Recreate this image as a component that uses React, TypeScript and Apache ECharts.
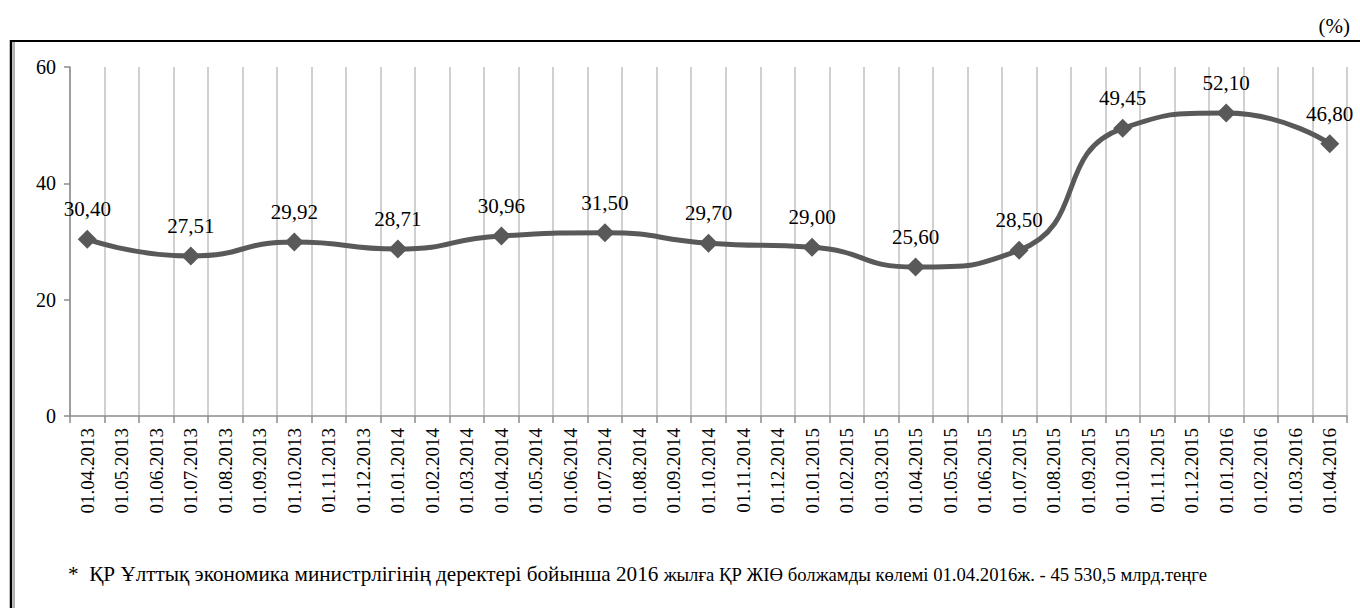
import React, { useEffect, useRef } from "react";
import * as echarts from "echarts";

const categories: string[] = [
  "01.04.2013", "01.05.2013", "01.06.2013", "01.07.2013", "01.08.2013", "01.09.2013",
  "01.10.2013", "01.11.2013", "01.12.2013", "01.01.2014", "01.02.2014", "01.03.2014",
  "01.04.2014", "01.05.2014", "01.06.2014", "01.07.2014", "01.08.2014", "01.09.2014",
  "01.10.2014", "01.11.2014", "01.12.2014", "01.01.2015", "01.02.2015", "01.03.2015",
  "01.04.2015", "01.05.2015", "01.06.2015", "01.07.2015", "01.08.2015", "01.09.2015",
  "01.10.2015", "01.11.2015", "01.12.2015", "01.01.2016", "01.02.2016", "01.03.2016",
  "01.04.2016",
];

const pointDates: string[] = [
  "01.04.2013", "01.07.2013", "01.10.2013", "01.01.2014", "01.04.2014", "01.07.2014",
  "01.10.2014", "01.01.2015", "01.04.2015", "01.07.2015", "01.10.2015", "01.01.2016",
  "01.04.2016",
];

const pointValues: number[] = [
  30.4, 27.51, 29.92, 28.71, 30.96, 31.5, 29.7, 29.0, 25.6, 28.5, 49.45, 52.1, 46.8,
];

const yTicks = { min: 0, max: 60, interval: 20 };

const unitLabel = "(%)";
const noteMain = "*  ҚР Ұлттық экономика министрлігінің деректері бойынша 2016 ";
const noteSmall = "жылға ҚР ЖІӨ болжамды көлемі 01.04.2016ж. - 45 530,5 млрд.теңге";

export default function App() {
  const ref = useRef<HTMLDivElement>(null);

  useEffect(() => {
    if (!ref.current) return;
    const chart = echarts.init(ref.current, null, { renderer: "svg" });
    const font = "Times New Roman, Liberation Serif, serif";
    const seriesData = pointDates.map((d, i) => [categories.indexOf(d), pointValues[i]]);

    chart.setOption({
      animation: false,
      backgroundColor: "#ffffff",
      textStyle: { fontFamily: font },
      grid: { left: 70, right: 13, top: 67, bottom: 192, containLabel: false },
      xAxis: {
        type: "category",
        data: categories,
        boundaryGap: true,
        axisLine: { show: true, lineStyle: { color: "#8c8c8c", width: 1.5 } },
        axisTick: { show: true, interval: 0, length: 7, lineStyle: { color: "#8c8c8c", width: 1.5 } },
        axisLabel: {
          interval: 0,
          rotate: 90,
          margin: 12,
          fontSize: 19,
          color: "#000000",
          fontFamily: font,
        },
        splitLine: { show: true, interval: 0, lineStyle: { color: "#c0c0c0", width: 1.5 } },
      },
      yAxis: {
        type: "value",
        min: yTicks.min,
        max: yTicks.max,
        interval: yTicks.interval,
        axisLine: { show: true, lineStyle: { color: "#8c8c8c", width: 1.5 } },
        axisTick: { show: true, length: 6, lineStyle: { color: "#8c8c8c", width: 1.5 } },
        axisLabel: { fontSize: 20, color: "#000000", margin: 14, fontFamily: font },
        splitLine: { show: false },
      },
      series: [
        {
          type: "line",
          data: seriesData,
          smooth: 0.55,
          symbol: "diamond",
          symbolSize: 19,
          itemStyle: { color: "#595959" },
          lineStyle: { color: "#595959", width: 5 },
          label: {
            show: true,
            position: "top",
            distance: 10,
            fontSize: 21,
            color: "#000000",
            fontFamily: font,
            formatter: (p: any) => Number(p.value[1]).toFixed(2).replace(".", ","),
          },
        },
      ],
      graphic: [
        {
          type: "line",
          shape: { x1: 10, y1: 41, x2: 1362, y2: 41 },
          style: { stroke: "#000000", lineWidth: 2 },
        },
        {
          type: "line",
          shape: { x1: 11, y1: 40, x2: 11, y2: 610 },
          style: { stroke: "#000000", lineWidth: 2.5 },
        },
        {
          type: "line",
          shape: { x1: 14, y1: 42, x2: 14, y2: 610 },
          style: { stroke: "#9a9a9a", lineWidth: 1.5 },
        },
        {
          type: "text",
          right: 10,
          top: 15,
          style: { text: unitLabel, fontSize: 21, fill: "#000000", fontFamily: font },
        },
        {
          type: "text",
          left: 68,
          top: 563,
          style: {
            text: "{a|" + noteMain + "}{b|" + noteSmall + "}",
            fontFamily: font,
            rich: {
              a: { fontSize: 21.2, fill: "#000000", fontFamily: font, verticalAlign: "bottom" },
              b: { fontSize: 18.7, fill: "#000000", fontFamily: font, verticalAlign: "bottom" },
            },
          },
        },
      ],
    });

    return () => chart.dispose();
  }, []);

  return (
    <div
      ref={ref}
      style={{ position: "absolute", left: 0, top: 0, width: 1360, height: 608 }}
    />
  );
}
